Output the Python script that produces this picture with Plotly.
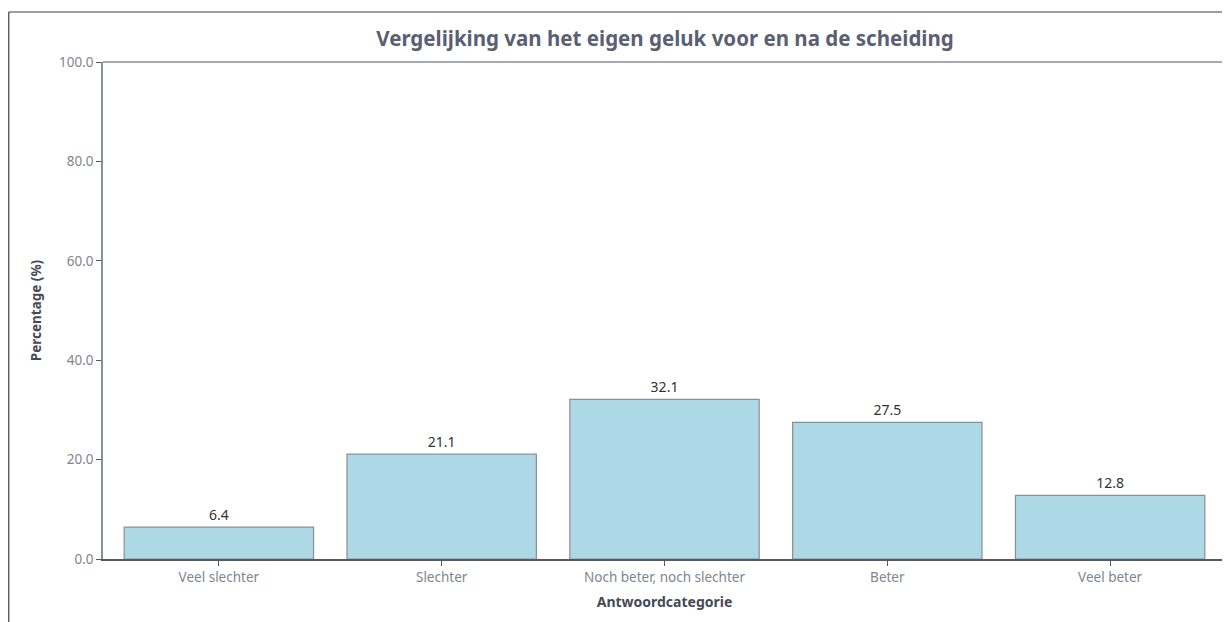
import plotly.graph_objects as go

categories = ["Veel slechter", "Slechter", "Noch beter, noch slechter", "Beter", "Veel beter"]
values = [6.4, 21.1, 32.1, 27.5, 12.8]
y_ticks = [0, 20, 40, 60, 80, 100]

FONT = "Noto Sans"
W, H = 1230, 622
L, R, T, B = 95, 10, 54, 71
PW = W - L - R
PH = H - T - B

fig = go.Figure(go.Bar(
    x=categories, y=values,
    marker=dict(color="#ADD8E6", line=dict(color="#8a8f96", width=1.2)),
    width=0.85,
    text=[f"{v:.1f}" for v in values], textposition="outside",
    textfont=dict(family=FONT, size=14, color="#333333"),
    cliponaxis=False,
))

fig.update_layout(
    width=W, height=H,
    margin=dict(l=L, r=R, t=T, b=B),
    paper_bgcolor="white", plot_bgcolor="white",
    title=dict(text="<b>Vergelijking van het eigen geluk voor en na de scheiding</b>",
               x=657 / W, xanchor="center", y=1 - 31 / H, yanchor="middle",
               font=dict(family=FONT, size=20.5, color="#5a6072")),
    showlegend=False,
    font=dict(family=FONT),
)
fig.update_xaxes(
    title=dict(text="<b>Antwoordcategorie</b>", font=dict(family=FONT, size=14, color="#454a57"), standoff=12),
    showline=True, linecolor="#555a60", linewidth=1.5, mirror=False,
    ticks="outside", ticklen=5, tickcolor="#555a60",
    tickfont=dict(family=FONT, size=13.5, color="#80858f"),
    showgrid=False, range=[-0.52, 4.52],
)
fig.update_yaxes(
    title=dict(text="<b>Percentage (%)</b>", font=dict(family=FONT, size=13.5, color="#454a57"), standoff=14),
    range=[0, 100], tickvals=y_ticks, tickformat=".1f",
    showline=True, linecolor="#8a8f96", linewidth=1.5, mirror=True,
    ticks="outside", ticklen=5, tickcolor="#555a60",
    tickfont=dict(family=FONT, size=13.5, color="#80858f"),
    showgrid=False, zeroline=False,
)
# top border of plot area (gray)
fig.add_shape(type="line", xref="paper", yref="paper",
              x0=0, x1=1, y0=1, y1=1,
              line=dict(color="#8a8f96", width=1.5))
# outer container frame (left and top edges)
fx = (0.6 - L) / PW
fy = (H - B - 4) / PH
fig.add_shape(type="line", xref="paper", yref="paper",
              x0=fx, x1=1.2, y0=fy, y1=fy,
              line=dict(color="#3a3f48", width=1.2))
fig.add_shape(type="line", xref="paper", yref="paper",
              x0=fx, x1=fx, y0=fy, y1=-0.3,
              line=dict(color="#3a3f48", width=1.2))

fig.write_html("out.html")
